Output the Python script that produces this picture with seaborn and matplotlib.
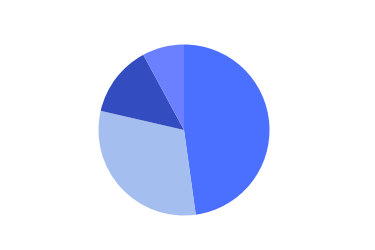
import matplotlib
matplotlib.use("Agg")
import matplotlib.pyplot as plt
import seaborn as sns

categories = ["A", "B", "C", "D"]
values = [47.8, 30.8, 13.5, 7.9]
colors = ["#4B6FFF", "#A5BEF0", "#334CC0", "#6B80FF"]

sns.set_theme(style="white")
palette = sns.color_palette(colors)

fig = plt.figure(figsize=(3.75, 2.5), dpi=100)
ax = fig.add_axes([98.5 / 375, 34.5 / 250, 171 / 375, 171 / 250])
ax.pie(values, colors=palette, startangle=90, counterclock=False,
       wedgeprops=dict(linewidth=0))
ax.set_xlim(-1, 1)
ax.set_ylim(-1, 1)
ax.set_aspect("equal")
ax.axis("off")
fig.savefig("out.png", dpi=100, facecolor="white")
